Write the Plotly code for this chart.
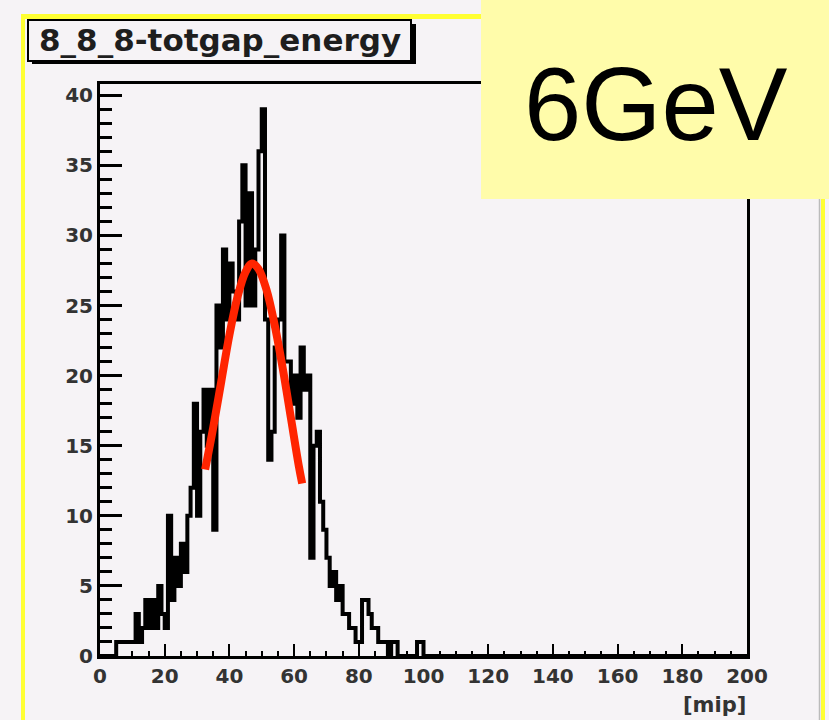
import plotly.graph_objects as go

# ---------------- data ----------------
bin_width = 1.0
# counts per 1-mip bin, bins 0..99 (all bins from 100 to 199 are empty)
counts_head = [0, 0, 0, 0, 0, 1, 1, 1, 1, 1,
               1, 3, 1, 2, 4, 2, 4, 2, 5, 3,
               2, 10, 4, 7, 5, 8, 6, 10, 12, 18,
               10, 16, 19, 15, 19, 9, 25, 22, 29, 24,
               28, 26, 24, 31, 35, 25, 33, 25, 29, 36,
               39, 24, 14, 16, 22, 24, 30, 21, 21, 18,
               20, 17, 22, 19, 20, 7, 15, 16, 11, 9,
               7, 5, 6, 4, 5, 3, 3, 2, 2, 1,
               1, 4, 4, 3, 2, 2, 1, 1, 1, 0,
               1, 1, 0, 0, 0, 0, 0, 0, 1, 1]
n_bins = 200
counts = counts_head + [0] * (n_bins - len(counts_head))

# gaussian fit curve
fit_x = [32.5, 35, 37.5, 40, 42.5, 45, 47, 49, 51.5, 54, 56.5, 59, 61.5, 62.5]
fit_y = [13.3, 16.3, 19.6, 22.9, 25.6, 27.4, 28.0, 27.6, 26.1, 23.6, 20.5, 17.0, 13.5, 12.3]

x_ticks = [0, 20, 40, 60, 80, 100, 120, 140, 160, 180, 200]
y_ticks = [0, 5, 10, 15, 20, 25, 30, 35, 40]

title_text = "8_8_8-totgap_energy"
energy_label = "6GeV"
x_unit = "[mip]"

# ---------------- layout geometry ----------------
W, H = 829, 720
L, R, T, B = 100, 82, 84, 64
pw = W - L - R
ph = H - T - B


def px(x):
    return (x - L) / pw


def py(y):
    return (H - B - y) / ph


BG = "#f6f3f6"
YEL = "#ffff33"
BOXY = "#fffcaa"

edges = [i * bin_width for i in range(n_bins + 1)]
step_y = counts + [counts[-1]]

fig = go.Figure()
fig.add_trace(go.Scatter(
    x=edges, y=step_y, mode="lines", line=dict(color="black", width=4, shape="hv"),
    hoverinfo="skip", showlegend=False))
fig.add_trace(go.Scatter(
    x=fit_x, y=fit_y, mode="lines", line=dict(color="#ff2400", width=8, shape="spline"),
    hoverinfo="skip", showlegend=False))

tickfont = dict(family="DejaVu Sans", size=20, color="#333333", weight="bold")

fig.update_xaxes(
    range=[0, 200], tickvals=x_ticks, ticks="inside", ticklen=12, tickwidth=2,
    tickcolor="black", showline=True, linewidth=3, linecolor="black", mirror=True,
    showgrid=False, zeroline=False, tickfont=tickfont,
    minor=dict(dtick=5, tick0=0, ticks="inside", ticklen=5, tickwidth=2, tickcolor="black"))
fig.update_yaxes(
    range=[0, 40.8], tickvals=y_ticks, ticks="inside", ticklen=22, tickwidth=3,
    tickcolor="black", showline=True, linewidth=3, linecolor="black", mirror=True,
    showgrid=False, zeroline=False, tickfont=tickfont,
    minor=dict(dtick=1, tick0=0, ticks="inside", ticklen=12, tickwidth=3, tickcolor="black"))

shapes = []
# outer yellow canvas border
shapes.append(dict(type="line", xref="paper", yref="paper", x0=px(21), x1=px(481),
                   y0=py(16.5), y1=py(16.5), line=dict(color=YEL, width=5), layer="above"))
shapes.append(dict(type="line", xref="paper", yref="paper", x0=px(23), x1=px(23),
                   y0=py(14), y1=py(722), line=dict(color=YEL, width=4), layer="above"))
shapes.append(dict(type="line", xref="paper", yref="paper", x0=px(819.5), x1=px(819.5),
                   y0=py(199), y1=py(722), line=dict(color="#bbbbbb", width=1.5), layer="above"))
shapes.append(dict(type="line", xref="paper", yref="paper", x0=px(823), x1=px(823),
                   y0=py(199), y1=py(722), line=dict(color=YEL, width=4), layer="above"))
# title pave with shadow
shapes.append(dict(type="rect", xref="paper", yref="paper", x0=px(32), x1=px(416),
                   y0=py(64), y1=py(24), fillcolor="black", line=dict(width=0), layer="above"))
shapes.append(dict(type="rect", xref="paper", yref="paper", x0=px(28), x1=px(411),
                   y0=py(61), y1=py(20), fillcolor=BG, line=dict(color="black", width=2),
                   layer="above"))
# energy label box
shapes.append(dict(type="rect", xref="paper", yref="paper", x0=px(481), x1=px(835),
                   y0=py(199), y1=py(-5), fillcolor=BOXY, line=dict(width=0), layer="above"))

annotations = [
    dict(text=title_text, xref="paper", yref="paper", x=px(220), y=py(40),
         xanchor="center", yanchor="middle", showarrow=False,
         font=dict(family="DejaVu Sans", size=31, color="#1e1e1e", weight="bold")),
    dict(text=energy_label, xref="paper", yref="paper", x=px(656), y=py(104),
         xanchor="center", yanchor="middle", showarrow=False,
         font=dict(family="Liberation Sans", size=103, color="black")),
    dict(text=x_unit, xref="paper", yref="paper", x=px(748), y=py(705),
         xanchor="right", yanchor="middle", showarrow=False,
         font=dict(family="DejaVu Sans", size=21, color="#333333", weight="bold")),
]

fig.update_layout(
    width=W, height=H, margin=dict(l=L, r=R, t=T, b=B, pad=0),
    paper_bgcolor=BG, plot_bgcolor=BG, showlegend=False,
    shapes=shapes, annotations=annotations)

fig.write_html("out.html",
               config={"displayModeBar": False, "staticPlot": True},
               post_script="document.body.style.margin='0';"
                           "document.body.style.overflow='hidden';"
                           "document.body.style.background='" + BG + "';")
